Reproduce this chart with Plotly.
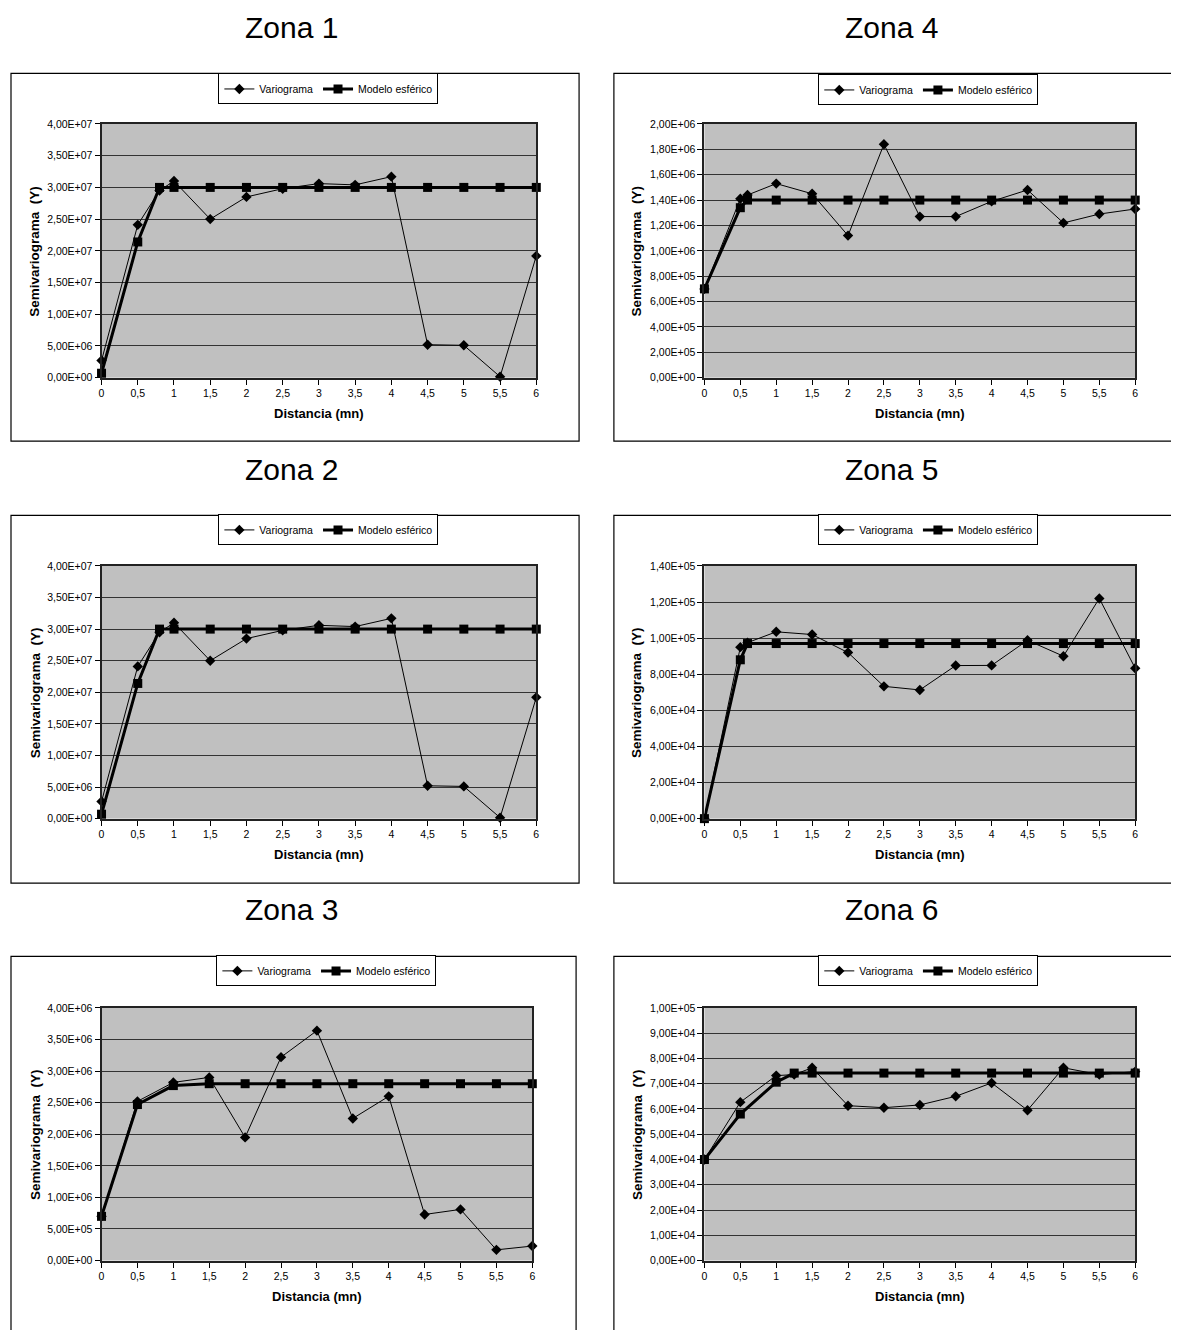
import plotly.graph_objects as go

# the page body has an 8px default margin; compensate so the picture lines up
OFF = 8
W, H = 1179 - OFF, 1330 - OFF

# ---------------- data ----------------
zone_titles = ["Zona 1", "Zona 2", "Zona 3", "Zona 4", "Zona 5", "Zona 6"]
x_tick_vals = [0, 0.5, 1, 1.5, 2, 2.5, 3, 3.5, 4, 4.5, 5, 5.5, 6]
x_tick_text = ["0", "0,5", "1", "1,5", "2", "2,5", "3", "3,5", "4", "4,5", "5", "5,5", "6"]

z1_var_x = [0, 0.5, 0.8, 1, 1.5, 2, 2.5, 3, 3.5, 4, 4.5, 5, 5.5, 6]
z1_var_y = [2.7e6, 2.41e7, 2.95e7, 3.10e7, 2.50e7, 2.85e7, 2.98e7, 3.06e7, 3.04e7, 3.17e7, 5.2e6, 5.1e6, 1.5e5, 1.92e7]
z1_mod_x = [0, 0.5, 0.8, 1, 1.5, 2, 2.5, 3, 3.5, 4, 4.5, 5, 5.5, 6]
z1_mod_y = [7.0e5, 2.14e7, 3.0e7, 3.0e7, 3.0e7, 3.0e7, 3.0e7, 3.0e7, 3.0e7, 3.0e7, 3.0e7, 3.0e7, 3.0e7, 3.0e7]

z2_var_x = [0, 0.5, 0.8, 1, 1.5, 2, 2.5, 3, 3.5, 4, 4.5, 5, 5.5, 6]
z2_var_y = [2.7e6, 2.41e7, 2.95e7, 3.10e7, 2.50e7, 2.85e7, 2.98e7, 3.06e7, 3.04e7, 3.17e7, 5.2e6, 5.1e6, 1.5e5, 1.92e7]
z2_mod_x = [0, 0.5, 0.8, 1, 1.5, 2, 2.5, 3, 3.5, 4, 4.5, 5, 5.5, 6]
z2_mod_y = [7.0e5, 2.14e7, 3.0e7, 3.0e7, 3.0e7, 3.0e7, 3.0e7, 3.0e7, 3.0e7, 3.0e7, 3.0e7, 3.0e7, 3.0e7, 3.0e7]

z3_var_x = [0, 0.5, 1, 1.5, 2, 2.5, 3, 3.5, 4, 4.5, 5, 5.5, 6]
z3_var_y = [7.0e5, 2.52e6, 2.82e6, 2.90e6, 1.95e6, 3.22e6, 3.64e6, 2.25e6, 2.60e6, 7.3e5, 8.1e5, 1.7e5, 2.3e5]
z3_mod_x = [0, 0.5, 1, 1.5, 2, 2.5, 3, 3.5, 4, 4.5, 5, 5.5, 6]
z3_mod_y = [7.0e5, 2.47e6, 2.77e6, 2.8e6, 2.8e6, 2.8e6, 2.8e6, 2.8e6, 2.8e6, 2.8e6, 2.8e6, 2.8e6, 2.8e6]

z4_var_x = [0, 0.5, 0.6, 1, 1.5, 2, 2.5, 3, 3.5, 4, 4.5, 5, 5.5, 6]
z4_var_y = [7.0e5, 1.41e6, 1.44e6, 1.53e6, 1.45e6, 1.12e6, 1.84e6, 1.27e6, 1.27e6, 1.39e6, 1.48e6, 1.22e6, 1.29e6, 1.33e6]
z4_mod_x = [0, 0.5, 0.6, 1, 1.5, 2, 2.5, 3, 3.5, 4, 4.5, 5, 5.5, 6]
z4_mod_y = [7.0e5, 1.34e6, 1.4e6, 1.4e6, 1.4e6, 1.4e6, 1.4e6, 1.4e6, 1.4e6, 1.4e6, 1.4e6, 1.4e6, 1.4e6, 1.4e6]

z5_var_x = [0, 0.5, 0.6, 1, 1.5, 2, 2.5, 3, 3.5, 4, 4.5, 5, 5.5, 6]
z5_var_y = [0, 9.5e4, 9.75e4, 1.035e5, 1.02e5, 9.2e4, 7.33e4, 7.13e4, 8.48e4, 8.49e4, 9.88e4, 9.0e4, 1.22e5, 8.33e4]
z5_mod_x = [0, 0.5, 0.6, 1, 1.5, 2, 2.5, 3, 3.5, 4, 4.5, 5, 5.5, 6]
z5_mod_y = [0, 8.8e4, 9.7e4, 9.7e4, 9.7e4, 9.7e4, 9.7e4, 9.7e4, 9.7e4, 9.7e4, 9.7e4, 9.7e4, 9.7e4, 9.7e4]

z6_var_x = [0, 0.5, 1, 1.25, 1.5, 2, 2.5, 3, 3.5, 4, 4.5, 5, 5.5, 6]
z6_var_y = [4.0e4, 6.27e4, 7.32e4, 7.36e4, 7.63e4, 6.13e4, 6.05e4, 6.16e4, 6.5e4, 7.03e4, 5.95e4, 7.63e4, 7.36e4, 7.48e4]
z6_mod_x = [0, 0.5, 1, 1.25, 1.5, 2, 2.5, 3, 3.5, 4, 4.5, 5, 5.5, 6]
z6_mod_y = [4.0e4, 5.8e4, 7.06e4, 7.42e4, 7.42e4, 7.42e4, 7.42e4, 7.42e4, 7.42e4, 7.42e4, 7.42e4, 7.42e4, 7.42e4, 7.42e4]

y_max = [4e7, 4e7, 4e6, 2e6, 1.4e5, 1e5]
y_step = [5e6, 5e6, 5e5, 2e5, 2e4, 1e4]

series = [
    (z1_var_x, z1_var_y, z1_mod_x, z1_mod_y),
    (z2_var_x, z2_var_y, z2_mod_x, z2_mod_y),
    (z3_var_x, z3_var_y, z3_mod_x, z3_mod_y),
    (z4_var_x, z4_var_y, z4_mod_x, z4_mod_y),
    (z5_var_x, z5_var_y, z5_mod_x, z5_mod_y),
    (z6_var_x, z6_var_y, z6_mod_x, z6_mod_y),
]

# ---------------- layout geometry (page pixels) ----------------
plot_px = [
    (99, 536, 119, 375),
    (99, 536, 565, 820),
    (99, 532, 1011, 1266),
    (705, 1138, 119, 375),
    (705, 1138, 565, 820),
    (705, 1138, 1011, 1266),
]
frame_px = [
    (8, 579, 68, 439),
    (8, 579, 514, 885),
    (8, 576, 959, 1340),
    (614, 1200, 68, 439),
    (614, 1200, 514, 885),
    (614, 1200, 959, 1340),
]
title_px = [(290, 22), (290, 468), (290, 912), (893, 22), (893, 468), (893, 912)]
legend_px = [(327, 68), (327, 513), (325, 958), (930, 69), (930, 513), (930, 958)]
ytitle_x = [32, 32, 32, 637, 637, 637]

FONT = "Arial, Liberation Sans, sans-serif"


def px_x(v):
    return (v - OFF) / W


def px_y(v):
    return 1 - (v - OFF) / H


def fmt_e(v):
    s = "%.2E" % v
    return s.replace(".", ",")


fig = go.Figure()
annotations = []
shapes = []

for i in range(6):
    k = i + 1
    xa = "x" if k == 1 else "x%d" % k
    ya = "y" if k == 1 else "y%d" % k
    lg = "legend" if k == 1 else "legend%d" % k
    vx, vy, mx, my = series[i]
    fig.add_trace(go.Scatter(
        x=vx, y=vy, xaxis=xa, yaxis=ya, legend=lg, name="Variograma",
        mode="lines+markers", cliponaxis=False,
        line=dict(color="black", width=1),
        marker=dict(symbol="diamond", size=8, color="black"),
    ))
    fig.add_trace(go.Scatter(
        x=mx, y=my, xaxis=xa, yaxis=ya, legend=lg, name="Modelo esférico",
        mode="lines+markers", cliponaxis=False,
        line=dict(color="black", width=3),
        marker=dict(symbol="square", size=9, color="black"),
    ))

    l, r, t, b = plot_px[i]
    yvals = []
    v = 0.0
    while v <= y_max[i] * 1.0000001:
        yvals.append(v)
        v += y_step[i]
    axis_common = dict(
        showline=True, linecolor="#222222", linewidth=2, mirror=True,
        ticks="outside", ticklen=5, tickcolor="black", tickwidth=1,
        tickfont=dict(family=FONT, size=10.5, color="black"),
        zeroline=False,
    )
    fig.update_layout(**{
        ("xaxis" if k == 1 else "xaxis%d" % k): dict(
            domain=[px_x(l), px_x(r)], anchor=ya, range=[0, 6],
            tickmode="array", tickvals=x_tick_vals, ticktext=x_tick_text,
            showgrid=False, **axis_common),
        ("yaxis" if k == 1 else "yaxis%d" % k): dict(
            domain=[px_y(b), px_y(t)], anchor=xa, range=[0, y_max[i]],
            tickmode="array", tickvals=yvals, ticktext=[fmt_e(y) for y in yvals],
            showgrid=True, gridcolor="#333333", gridwidth=1, **axis_common),
        lg: dict(
            x=px_x(legend_px[i][0]), xanchor="center",
            y=px_y(legend_px[i][1]), yanchor="top",
            orientation="h", bgcolor="white", bordercolor="black", borderwidth=1,
            font=dict(family=FONT, size=10.5, color="black"),
            itemwidth=30, tracegroupgap=0,
        ),
    })

    fx0, fx1, fy0, fy1 = frame_px[i]
    shapes.append(dict(type="rect", xref="paper", yref="paper",
                       x0=px_x(fx0), x1=px_x(fx1), y0=px_y(fy1), y1=px_y(fy0),
                       line=dict(color="black", width=1.2), layer="below"))

    tx, ty = title_px[i]
    annotations.append(dict(text=zone_titles[i], x=px_x(tx), y=px_y(ty),
                            xref="paper", yref="paper", showarrow=False,
                            xanchor="center", yanchor="middle",
                            font=dict(family=FONT, size=30, color="black")))
    annotations.append(dict(text="<b>Distancia (mn)</b>", x=px_x((l + r) / 2), y=px_y(b + 36),
                            xref="paper", yref="paper", showarrow=False,
                            xanchor="center", yanchor="middle",
                            font=dict(family=FONT, size=13, color="black")))
    annotations.append(dict(text="<b>Semivariograma  (Y)</b>", x=px_x(ytitle_x[i]),
                            y=px_y((t + b) / 2),
                            xref="paper", yref="paper", showarrow=False, textangle=-90,
                            xanchor="center", yanchor="middle",
                            font=dict(family=FONT, size=13.5, color="black")))

fig.update_layout(
    width=W, height=H, margin=dict(l=0, r=0, t=0, b=0),
    paper_bgcolor="white", plot_bgcolor="#C0C0C0",
    annotations=annotations, shapes=shapes,
    font=dict(family=FONT, color="black"),
)

fig.write_html("out.html")
